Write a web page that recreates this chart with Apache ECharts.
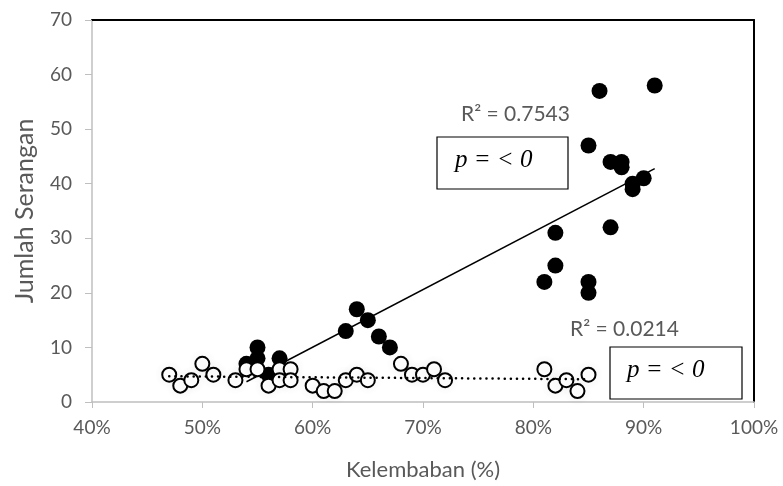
<!DOCTYPE html>
<html lang="en">
<head>
    <meta charset="UTF-8">
    <title>Kelembaban vs Jumlah Serangan</title>
    <style>
        html, body { margin: 0; padding: 0; background: #fff; }
        #container { width: 783px; height: 486px; }
    </style>
    <script src="https://cdn.jsdelivr.net/npm/echarts@6/dist/echarts.min.js"></script>
</head>
<body>
<div id="container"></div>
<script type="text/javascript">
    // data: [kelembaban, jumlah serangan]
    var filledPoints = [
        [0.54, 7], [0.55, 10], [0.55, 8], [0.56, 5], [0.57, 8],
        [0.63, 13], [0.64, 17], [0.65, 15], [0.66, 12], [0.67, 10],
        [0.81, 22], [0.82, 31], [0.82, 25], [0.85, 47], [0.85, 22], [0.85, 20],
        [0.86, 57], [0.87, 44], [0.87, 32], [0.88, 44], [0.88, 43],
        [0.89, 40], [0.89, 39], [0.90, 41], [0.91, 58]
    ];
    var openPoints = [
        [0.47, 5], [0.48, 3], [0.49, 4], [0.50, 7], [0.51, 5], [0.53, 4],
        [0.54, 6], [0.55, 6], [0.56, 3], [0.57, 6], [0.57, 4], [0.58, 6], [0.58, 4],
        [0.60, 3], [0.61, 2], [0.62, 2], [0.63, 4], [0.64, 5], [0.65, 4],
        [0.68, 7], [0.69, 5], [0.70, 5], [0.71, 6], [0.72, 4],
        [0.81, 6], [0.82, 3], [0.83, 4], [0.84, 2], [0.85, 5]
    ];
    var xTicks = [0.4, 0.5, 0.6, 0.7, 0.8, 0.9, 1.0];
    var yTicks = [0, 10, 20, 30, 40, 50, 60, 70];
    var r2Labels = ['R² = 0.7543', 'R² = 0.0214'];
    var pLabel = 'p = < 0';

    // least squares line over the range of the points
    function trend(points) {
        var n = points.length, sx = 0, sy = 0, sxx = 0, sxy = 0;
        var minX = Infinity, maxX = -Infinity;
        points.forEach(function (p) {
            sx += p[0]; sy += p[1]; sxx += p[0] * p[0]; sxy += p[0] * p[1];
            minX = Math.min(minX, p[0]); maxX = Math.max(maxX, p[0]);
        });
        var b = (n * sxy - sx * sy) / (n * sxx - sx * sx);
        var a = (sy - b * sx) / n;
        return [[minX, a + b * minX], [maxX, a + b * maxX]];
    }

    var labelFont = 'Lato';
    var serifFont = 'Liberation Serif';
    var gray = '#595959';

    var myChart = echarts.init(document.getElementById('container'));
    var option = {
        backgroundColor: '#fff',
        animation: false,
        grid: { left: 92, right: 29, top: 20, bottom: 84 },
        xAxis: [{
            type: 'value',
            min: xTicks[0], max: xTicks[xTicks.length - 1], interval: 0.1,
            name: 'Kelembaban (%)',
            nameLocation: 'middle',
            nameGap: 57,
            nameTextStyle: { color: gray, fontSize: 22, fontFamily: labelFont },
            axisLine: { onZero: false, lineStyle: { color: '#bfbfbf', width: 1.5 } },
            axisTick: { show: true, length: 6, lineStyle: { color: '#bfbfbf' } },
            axisLabel: {
                color: gray, fontSize: 19, fontFamily: labelFont, margin: 16,
                formatter: function (v) { return Math.round(v * 100) + '%'; }
            },
            splitLine: { show: false }
        }, {
            type: 'value', position: 'top',
            min: xTicks[0], max: xTicks[xTicks.length - 1],
            axisLine: { onZero: false, lineStyle: { color: '#000', width: 2 } },
            axisTick: { show: false }, axisLabel: { show: false }, splitLine: { show: false }
        }],
        yAxis: [{
            type: 'value',
            min: yTicks[0], max: yTicks[yTicks.length - 1], interval: 10,
            name: 'Jumlah Serangan',
            nameLocation: 'middle',
            nameGap: 55,
            nameTextStyle: { color: gray, fontSize: 25, fontFamily: labelFont },
            axisLine: { show: true, onZero: false, lineStyle: { color: '#bfbfbf', width: 1.5 } },
            axisTick: { show: true, length: 7, lineStyle: { color: '#bfbfbf' } },
            axisLabel: { color: gray, fontSize: 19, fontFamily: labelFont, margin: 20 },
            splitLine: { show: false }
        }, {
            type: 'value', position: 'right',
            min: yTicks[0], max: yTicks[yTicks.length - 1],
            axisLine: { show: true, onZero: false, lineStyle: { color: '#000', width: 2 } },
            axisTick: { show: false }, axisLabel: { show: false }, splitLine: { show: false }
        }],
        graphic: [
            { type: 'text', x: 461, y: 104,
              style: { text: r2Labels[0], fill: gray, fontSize: 21, fontFamily: labelFont } },
            { type: 'rect', shape: { x: 437, y: 137, width: 131, height: 52 },
              style: { fill: '#fff', stroke: '#000', lineWidth: 1.2 }, z: 10 },
            { type: 'text', x: 455, y: 148, z: 11,
              style: { text: pLabel, fill: '#000', fontSize: 25, fontStyle: 'italic', fontFamily: serifFont } },
            { type: 'text', x: 570, y: 319,
              style: { text: r2Labels[1], fill: gray, fontSize: 21, fontFamily: labelFont } },
            { type: 'rect', shape: { x: 610, y: 347, width: 132, height: 52 },
              style: { fill: '#fff', stroke: '#000', lineWidth: 1.2 }, z: 10 },
            { type: 'text', x: 627, y: 358, z: 11,
              style: { text: pLabel, fill: '#000', fontSize: 25, fontStyle: 'italic', fontFamily: serifFont } }
        ],
        series: [{
            name: 'filled',
            type: 'scatter',
            data: filledPoints,
            symbol: 'circle',
            symbolSize: 16,
            itemStyle: { color: '#000', opacity: 1 },
            z: 3
        }, {
            name: 'filled trend',
            type: 'line',
            data: trend(filledPoints),
            symbol: 'none',
            lineStyle: { color: '#000', width: 1.5 },
            z: 4
        }, {
            name: 'open',
            type: 'scatter',
            data: openPoints,
            symbol: 'circle',
            symbolSize: 14,
            itemStyle: {
                color: '#fff', borderColor: '#000', borderWidth: 2, opacity: 1,
                shadowBlur: 12, shadowColor: 'rgba(0,0,0,0.06)'
            },
            z: 5
        }, {
            name: 'open trend',
            type: 'line',
            data: trend(openPoints),
            symbol: 'none',
            lineStyle: { color: '#000', width: 2.5, type: [0.1, 6], cap: 'round' },
            z: 6
        }]
    };
    myChart.setOption(option);
</script>
</body>
</html>
